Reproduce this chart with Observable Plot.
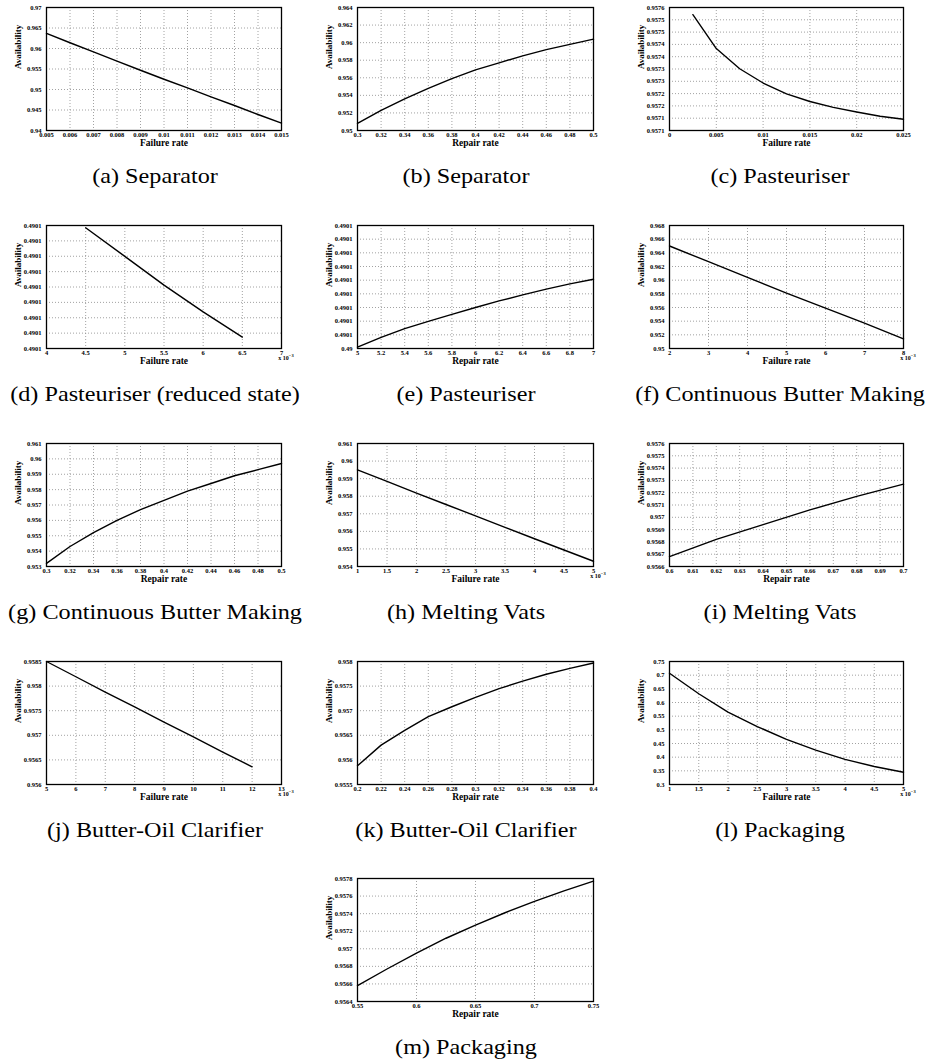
<!DOCTYPE html>
<html><head><meta charset="utf-8">
<script src="https://cdn.jsdelivr.net/npm/d3@7"></script>
<script src="https://cdn.jsdelivr.net/npm/@observablehq/plot@0.6"></script>
<style>
body{margin:0;background:#fff;}
#fig{position:relative;width:934px;height:1059px;overflow:hidden;background:#fff;}
#fig svg{position:absolute;overflow:visible;}
.cap{position:absolute;font-family:"Liberation Serif",serif;font-size:22px;white-space:nowrap;transform:translate(-50%,-50%) scaleX(1.1);color:#000;line-height:1;}
</style></head><body><div id="fig"></div>
<script>
// ---- (a) Separator: failure rate
const aX = [0.005,0.006,0.007,0.008,0.009,0.010,0.011,0.012,0.013,0.014,0.015];
const aY = [0.9637,0.9614,0.9592,0.9569,0.9547,0.9525,0.9504,0.9482,0.9461,0.9439,0.9418];
const aXT = [0.005,0.006,0.007,0.008,0.009,0.01,0.011,0.012,0.013,0.014,0.015];
const aYT = [0.94,0.945,0.95,0.955,0.96,0.965,0.97];
// ---- (b) Separator: repair rate
const bX = [0.30,0.32,0.34,0.36,0.38,0.40,0.42,0.44,0.46,0.48,0.50];
const bY = [0.9508,0.9523,0.9536,0.9548,0.9559,0.9569,0.9577,0.9585,0.9592,0.9598,0.9604];
const bXT = [0.3,0.32,0.34,0.36,0.38,0.4,0.42,0.44,0.46,0.48,0.5];
const bYT = [0.95,0.952,0.954,0.956,0.958,0.96,0.962,0.964];
// ---- (c) Pasteuriser: failure rate
const cX = [0.0025,0.005,0.0075,0.01,0.0125,0.015,0.0175,0.02,0.0225,0.025];
const cY = [0.957571,0.957433,0.957351,0.957293,0.957249,0.957218,0.957194,0.957175,0.957158,0.957146];
const cXT = [0,0.005,0.01,0.015,0.02,0.025];
const cYT = [0.9571,0.95715,0.9572,0.95725,0.9573,0.95735,0.9574,0.95745,0.9575,0.95755,0.9576];
const cYL = ["0.9571","0.9571","0.9572","0.9572","0.9573","0.9573","0.9574","0.9574","0.9575","0.9575","0.9576"];
// ---- (d) Pasteuriser (reduced state): failure rate (x 10^-3)
const dX = [4.5,5,5.5,6,6.5];
const dY = [0.49010585,0.49010399,0.49010212,0.49010038,0.49009874];
const dXT = [4,4.5,5,5.5,6,6.5,7];
const dYT = [0.490098,0.490099,0.4901,0.490101,0.490102,0.490103,0.490104,0.490105,0.490106];
const dYL = ["0.4901","0.4901","0.4901","0.4901","0.4901","0.4901","0.4901","0.4901","0.4901"];
// ---- (e) Pasteuriser: repair rate
const eX = [5,5.2,5.4,5.6,5.8,6,6.2,6.4,6.6,6.8,7];
const eY = [0.4900455,0.49004905,0.49005225,0.49005495,0.4900575,0.49006,0.4900624,0.4900646,0.4900667,0.49006865,0.49007035];
const eXT = [5,5.2,5.4,5.6,5.8,6,6.2,6.4,6.6,6.8,7];
const eYT = [0.490045,0.49005,0.490055,0.49006,0.490065,0.49007,0.490075,0.49008,0.490085,0.49009];
const eYL = ["0.49","0.4901","0.4901","0.4901","0.4901","0.4901","0.4901","0.4901","0.4901","0.4901"];
// ---- (f) Continuous Butter Making: failure rate (x 10^-3)
const fX = [2,3,4,5,6,7,8];
const fY = [0.9650,0.9627,0.9604,0.9581,0.9559,0.9537,0.9514];
const fXT = [2,3,4,5,6,7,8];
const fYT = [0.95,0.952,0.954,0.956,0.958,0.96,0.962,0.964,0.966,0.968];
// ---- (g) Continuous Butter Making: repair rate
const gX = [0.30,0.32,0.34,0.36,0.38,0.40,0.42,0.44,0.46,0.48,0.50];
const gY = [0.9532,0.9543,0.9552,0.9560,0.9567,0.9573,0.9579,0.9584,0.9589,0.9593,0.9597];
const gXT = [0.3,0.32,0.34,0.36,0.38,0.4,0.42,0.44,0.46,0.48,0.5];
const gYT = [0.953,0.954,0.955,0.956,0.957,0.958,0.959,0.96,0.961];
// ---- (h) Melting Vats: failure rate (x 10^-3)
const hX = [1,1.5,2,2.5,3,3.5,4,4.5,5];
const hY = [0.9595,0.95884,0.95818,0.95753,0.95688,0.95623,0.95558,0.95494,0.9543];
const hXT = [1,1.5,2,2.5,3,3.5,4,4.5,5];
const hYT = [0.954,0.955,0.956,0.957,0.958,0.959,0.96,0.961];
// ---- (i) Melting Vats: repair rate
const iX = [0.60,0.62,0.64,0.66,0.68,0.70];
const iY = [0.95668,0.95682,0.95694,0.95706,0.95717,0.95727];
const iXT = [0.6,0.61,0.62,0.63,0.64,0.65,0.66,0.67,0.68,0.69,0.7];
const iYT = [0.9566,0.9567,0.9568,0.9569,0.957,0.9571,0.9572,0.9573,0.9574,0.9575,0.9576];
// ---- (j) Butter-Oil Clarifier: failure rate (x 10^-3)
const jX = [5,6,7,8,9,10,11,12];
const jY = [0.9585,0.95819,0.95788,0.95758,0.95727,0.95697,0.95666,0.95636];
const jXT = [5,6,7,8,9,10,11,12,13];
const jYT = [0.956,0.9565,0.957,0.9575,0.958,0.9585];
// ---- (k) Butter-Oil Clarifier: repair rate
const kX = [0.20,0.22,0.24,0.26,0.28,0.30,0.32,0.34,0.36,0.38,0.40];
const kY = [0.95588,0.9563,0.9566,0.95688,0.95708,0.95727,0.95745,0.9576,0.95774,0.95786,0.95797];
const kXT = [0.2,0.22,0.24,0.26,0.28,0.3,0.32,0.34,0.36,0.38,0.4];
const kYT = [0.9555,0.956,0.9565,0.957,0.9575,0.958];
// ---- (l) Packaging: failure rate (x 10^-3)
const lX = [1,1.5,2,2.5,3,3.5,4,4.5,5];
const lY = [0.707,0.632,0.565,0.512,0.465,0.426,0.392,0.366,0.345];
const lXT = [1,1.5,2,2.5,3,3.5,4,4.5,5];
const lYT = [0.3,0.35,0.4,0.45,0.5,0.55,0.6,0.65,0.7,0.75];
// ---- (m) Packaging: repair rate
const mX = [0.55,0.575,0.6,0.625,0.65,0.675,0.7,0.725,0.75];
const mY = [0.95658,0.95677,0.95695,0.95712,0.95727,0.95741,0.95754,0.95766,0.95777];
const mXT = [0.55,0.6,0.65,0.7,0.75];
const mYT = [0.9564,0.9566,0.9568,0.957,0.9572,0.9574,0.9576,0.9578];

const captions = ["(a) Separator","(b) Separator","(c) Pasteuriser","(d) Pasteuriser (reduced state)",
  "(e) Pasteuriser","(f) Continuous Butter Making","(g) Continuous Butter Making","(h) Melting Vats",
  "(i) Melting Vats","(j) Butter-Oil Clarifier","(k) Butter-Oil Clarifier","(l) Packaging","(m) Packaging"];
const FR = "Failure rate", RR = "Repair rate";

const cols = [{x0:46,x1:281,cx:155},{x0:357,x1:593,cx:466},{x0:669,x1:903,cx:780}];
const rows = [7,225,443,661,878];
const PH = 123;

const panels = [
  {r:0,c:0,xs:aX,ys:aY,xt:aXT,yt:aYT,xl:FR},
  {r:0,c:1,xs:bX,ys:bY,xt:bXT,yt:bYT,xl:RR},
  {r:0,c:2,xs:cX,ys:cY,xt:cXT,yt:cYT,yl:cYL,xl:FR},
  {r:1,c:0,xs:dX,ys:dY,xt:dXT,yt:dYT,yl:dYL,xl:FR,mult:true},
  {r:1,c:1,xs:eX,ys:eY,xt:eXT,yt:eYT,yl:eYL,xl:RR},
  {r:1,c:2,xs:fX,ys:fY,xt:fXT,yt:fYT,xl:FR,mult:true},
  {r:2,c:0,xs:gX,ys:gY,xt:gXT,yt:gYT,xl:RR},
  {r:2,c:1,xs:hX,ys:hY,xt:hXT,yt:hYT,xl:FR,mult:true},
  {r:2,c:2,xs:iX,ys:iY,xt:iXT,yt:iYT,xl:RR},
  {r:3,c:0,xs:jX,ys:jY,xt:jXT,yt:jYT,xl:FR,mult:true},
  {r:3,c:1,xs:kX,ys:kY,xt:kXT,yt:kYT,xl:RR},
  {r:3,c:2,xs:lX,ys:lY,xt:lXT,yt:lYT,xl:FR,mult:true},
  {r:4,c:1,xs:mX,ys:mY,xt:mXT,yt:mYT,xl:RR}
];

const fig = document.getElementById("fig");
const FONT = "Liberation Serif, Times New Roman, serif";
const mL = 50, mR = 34, mT = 8, mB = 26;

panels.forEach((p, idx) => {
  const col = cols[p.c];
  const x0 = col.x0, x1 = col.x1, y0 = rows[p.r];
  const pw = x1 - x0;
  const data = p.xs.map((x, i) => ({x, y: p.ys[i]}));
  const xfmt = d => String(d);
  const yfmt = p.yl ? (d => p.yl[p.yt.indexOf(d)]) : (d => String(d));
  const gridStyle = {stroke: "#8a8a8a", strokeOpacity: 1, strokeWidth: 0.8, strokeDasharray: "1,2"};
  const svg = Plot.plot({
    width: pw + mL + mR, height: PH + mT + mB,
    marginLeft: mL, marginRight: mR, marginTop: mT, marginBottom: mB,
    style: {fontFamily: FONT, fontSize: "6.5px", fontWeight: "bold", background: "transparent", color: "black"},
    x: {domain: [p.xt[0], p.xt[p.xt.length - 1]], label: null},
    y: {domain: [p.yt[0], p.yt[p.yt.length - 1]], label: null},
    marks: [
      Plot.gridX({ticks: p.xt, ...gridStyle}),
      Plot.gridY({ticks: p.yt, ...gridStyle}),
      Plot.line(data, {x: "x", y: "y", stroke: "black", strokeWidth: 1.4}),
      Plot.frame({stroke: "black", strokeWidth: 1.3}),
      Plot.axisX({ticks: p.xt, tickFormat: xfmt, tickSize: 0, tickPadding: 1.5, label: null, fontSize: 6.5, fontWeight: "bold"}),
      Plot.axisY({ticks: p.yt, tickFormat: yfmt, tickSize: 0, tickPadding: 5, label: null, fontSize: 6.5, fontWeight: "bold"}),
      Plot.text([p.xl], {frameAnchor: "bottom", lineAnchor: "middle", dy: 12, fontSize: 9.5, fontWeight: "bold"}),
      Plot.text(["Availability"], {frameAnchor: "left", dx: -28, rotate: -90, fontSize: 9, fontWeight: "bold"})
    ]
  });
  svg.style.left = (x0 - mL) + "px";
  svg.style.top = (y0 - mT) + "px";
  if (p.mult) {
    const t = d3.select(svg).append("text")
      .attr("x", mL + pw + 5).attr("y", mT + PH + 12)
      .attr("font-size", 6).attr("font-weight", "bold").attr("font-family", FONT).attr("fill", "black");
    t.append("tspan").text("x 10");
    t.append("tspan").attr("dy", -3).attr("font-size", 4.5).text("−3");
  }
  fig.appendChild(svg);
  const cap = document.createElement("div");
  cap.className = "cap";
  cap.textContent = captions[idx];
  cap.style.left = col.cx + "px";
  cap.style.top = (y0 + PH + 46) + "px";
  fig.appendChild(cap);
});
</script>
</body></html>
